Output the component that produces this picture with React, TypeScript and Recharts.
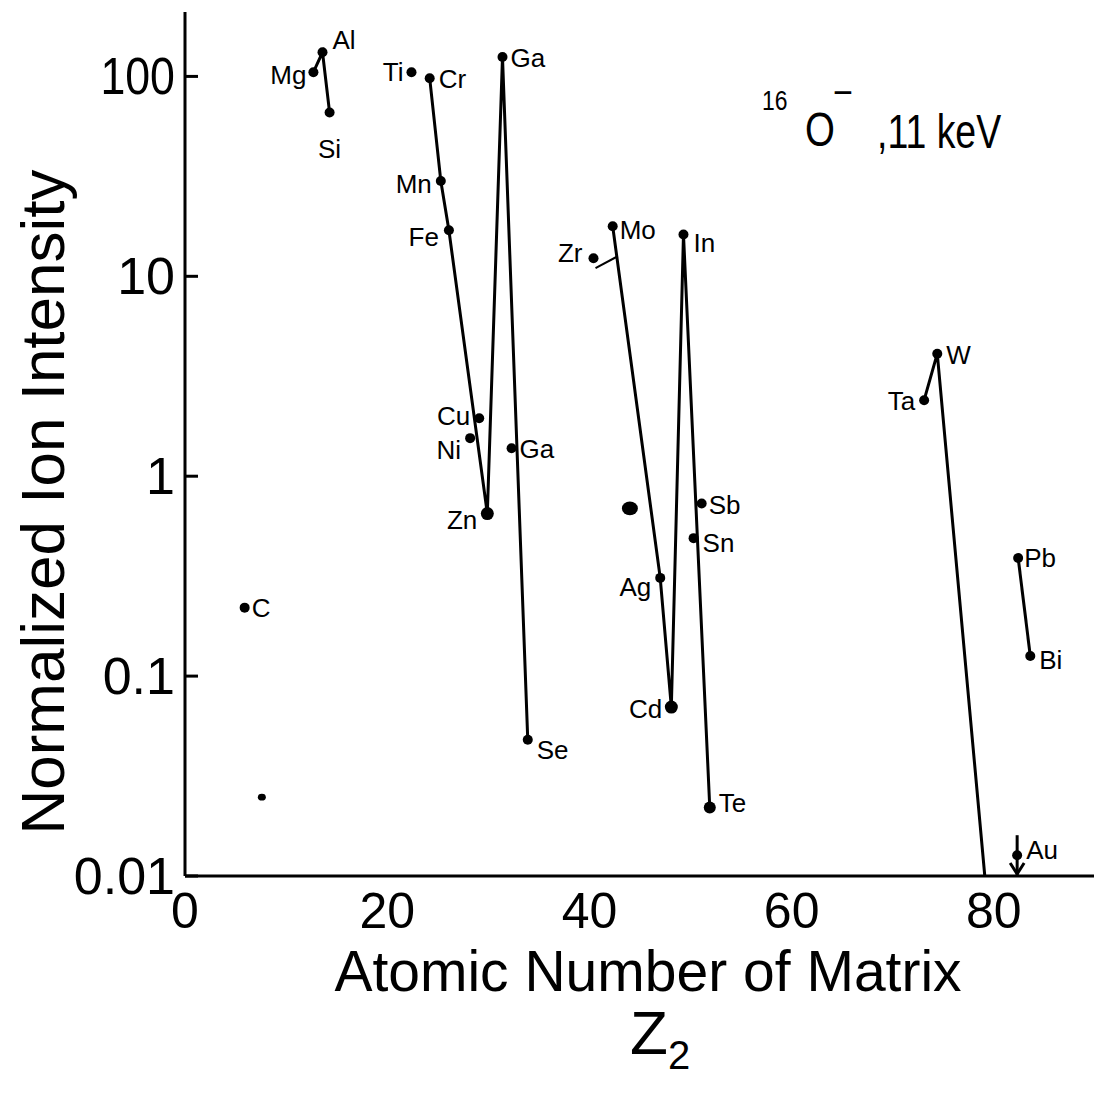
import React from 'react';
import { ScatterChart, Scatter, XAxis, YAxis } from 'recharts';

// Mg – Al – Si
const lightSym = ['Mg', 'Al', 'Si'];
const lightZ = [12.7, 13.6, 14.3];
const lightVal = [105, 132, 66];

// Cr … Zn – Ga – Se
const ironSym = ['Cr', 'Mn', 'Fe', 'Zn', 'Ga', 'Se'];
const ironZ = [24.2, 25.3, 26.1, 29.9, 31.4, 33.9];
const ironVal = [98, 30, 17, 0.65, 125, 0.048];

// Mo – Ag – Cd – In – Te
const fifthSym = ['Mo', 'Ag', 'Cd', 'In', 'Te'];
const fifthZ = [42.3, 47.0, 48.1, 49.3, 51.9];
const fifthVal = [17.8, 0.31, 0.07, 16.2, 0.022];

// Ta – W, falling below the axis towards Z = 79
const heavySym = ['Ta', 'W', ''];
const heavyZ = [73.1, 74.4, 79.1];
const heavyVal = [2.4, 4.1, 0.01];

// Pb – Bi
const leadSym = ['Pb', 'Bi'];
const leadZ = [82.4, 83.6];
const leadVal = [0.39, 0.126];

// points not joined by a line
const singleSym = ['C', 'Ti', 'Ni', 'Cu', 'Ga', 'Zr', 'Sn', 'Sb'];
const singleZ = [5.9, 22.4, 28.2, 29.1, 32.3, 40.4, 50.3, 51.1];
const singleVal = [0.22, 105, 1.55, 1.95, 1.38, 12.3, 0.49, 0.73];

// Au: upper limit, arrow pointing down
const auZ = 82.3;
const auVal = 0.0127;
const auArrowVal = [0.016, 0.01];

// short leader next to Zr
const zrLeaderZ = [40.6, 42.8];
const zrLeaderVal = [11.0, 12.6];

// stray marks
const speckZ = [44.0, 7.6];
const speckVal = [0.69, 0.0248];

const xTicks = [0, 20, 40, 60, 80];
const yTicks = [0.01, 0.1, 1, 10, 100];

const SANS = '"Liberation Sans", Arial, sans-serif';
const INK = '#000';

type Anchor = 'start' | 'middle' | 'end';
// label offset from the dot: dx, dy (baseline), anchor
const labelPos: Record<string, [number, number, Anchor]> = {
  Mg: [-7, 12, 'end'],
  Al: [10, -3, 'start'],
  Si: [0, 46, 'middle'],
  Ti: [-8, 9, 'end'],
  Cr: [9, 10, 'start'],
  Mn: [-9, 12, 'end'],
  Fe: [-10, 16, 'end'],
  Cu: [-9, 7, 'end'],
  Ni: [-9, 21, 'end'],
  Zn: [-10, 15, 'end'],
  Ga: [8, 10, 'start'],
  Se: [9, 19, 'start'],
  C: [7, 9, 'start'],
  Zr: [-11, 4, 'end'],
  Mo: [7, 13, 'start'],
  In: [10, 18, 'start'],
  Sb: [7, 10, 'start'],
  Sn: [9, 14, 'start'],
  Ag: [-9, 18, 'end'],
  Cd: [-9, 11, 'end'],
  Te: [9, 4, 'start'],
  W: [9, 10, 'start'],
  Ta: [-9, 10, 'end'],
  Pb: [6, 9, 'start'],
  Bi: [9, 13, 'start'],
  Au: [9, 4, 'start'],
};
const dotR: Record<string, number> = { Zn: 6.5, Cd: 6.5, Te: 6 };

const toPoints = (sym: string[], z: number[], v: number[]) =>
  z.map((zz, i) => ({ sym: sym[i], z: zz, v: v[i] }));

const ElementDot = (props: any) => {
  const { cx, cy, payload } = props;
  if (cx == null || cy == null || !payload.sym) return <g />;
  const [dx, dy, anchor] = labelPos[payload.sym] || [8, 9, 'start'];
  return (
    <g>
      <circle cx={cx} cy={cy} r={dotR[payload.sym] || 5} fill={INK} />
      <text x={cx + dx} y={cy + dy} textAnchor={anchor} fontFamily={SANS} fontSize={26} fill={INK}>
        {payload.sym}
      </text>
    </g>
  );
};

const NoDot = () => <g />;

const ArrowTip = (props: any) => {
  const { cx, cy, payload } = props;
  if (cx == null || !payload.tip) return <g />;
  return (
    <path d={`M${cx - 7},${cy - 13} L${cx},${cy - 2} L${cx + 7},${cy - 13}`} stroke={INK} strokeWidth={3} fill="none" />
  );
};

const speckR = [8, 4];
const Speck = (props: any) => {
  const { cx, cy, index } = props;
  if (cx == null) return <g />;
  const r = speckR[index] ?? 4;
  return <ellipse cx={cx} cy={cy} rx={r} ry={r * 0.85} fill={INK} />;
};

// condensed lettering: squeeze the glyphs horizontally around the anchor point
const Narrow = ({ x, y, size, anchor = 'start', squeeze = 0.8, children }: any) => (
  <text
    transform={`translate(${x} ${y}) scale(${squeeze} 1)`}
    textAnchor={anchor}
    fontFamily={SANS}
    fontSize={size}
    fill={INK}
  >
    {children}
  </text>
);

const YTick = (props: any) => {
  const { x, y, payload } = props;
  return (
    <g>
      <line x1={x} y1={y} x2={x + 13} y2={y} stroke={INK} strokeWidth={3} />
      <Narrow x={x - 10} y={y + 18} size={52} anchor="end" squeeze={payload.value === 100 ? 0.86 : 1}>
        {String(payload.value)}
      </Narrow>
    </g>
  );
};

const XTick = (props: any) => {
  const { x, y, payload } = props;
  return (
    <text x={x} y={y + 52} textAnchor="middle" fontFamily={SANS} fontSize={50} fill={INK}>
      {payload.value}
    </text>
  );
};

const lineStyle = { stroke: INK, strokeWidth: 3 };

export default function App() {
  const auArrow = auArrowVal.map((v, i) => ({ z: auZ, v, tip: i === auArrowVal.length - 1 }));
  const specks = speckZ.map((z, i) => ({ z, v: speckVal[i] }));
  const zrLeader = zrLeaderZ.map((z, i) => ({ z, v: zrLeaderVal[i] }));

  return (
    <div style={{ width: 1094, height: 1099, background: '#fff' }}>
      <ScatterChart width={1094} height={1099} margin={{ top: 4, right: 7, left: 0, bottom: 0 }}>
        <XAxis
          dataKey="z"
          type="number"
          domain={[0, 90]}
          ticks={xTicks}
          allowDataOverflow
          height={231}
          tickSize={0}
          tickMargin={0}
          tickLine={false}
          axisLine={{ stroke: INK, strokeWidth: 3 }}
          tick={<XTick />}
        />
        <YAxis
          dataKey="v"
          type="number"
          scale="log"
          domain={[0.01, 210]}
          ticks={yTicks}
          allowDataOverflow
          width={177}
          tickSize={0}
          tickMargin={0}
          tickLine={false}
          axisLine={{ stroke: INK, strokeWidth: 3 }}
          tick={<YTick />}
        />
        <Scatter data={toPoints(lightSym, lightZ, lightVal)} line={lineStyle} shape={ElementDot} isAnimationActive={false} />
        <Scatter data={toPoints(ironSym, ironZ, ironVal)} line={lineStyle} shape={ElementDot} isAnimationActive={false} />
        <Scatter data={toPoints(fifthSym, fifthZ, fifthVal)} line={lineStyle} shape={ElementDot} isAnimationActive={false} />
        <Scatter data={toPoints(heavySym, heavyZ, heavyVal)} line={lineStyle} shape={ElementDot} isAnimationActive={false} />
        <Scatter data={toPoints(leadSym, leadZ, leadVal)} line={lineStyle} shape={ElementDot} isAnimationActive={false} />
        <Scatter data={toPoints(singleSym, singleZ, singleVal)} shape={ElementDot} isAnimationActive={false} />
        <Scatter data={auArrow} line={lineStyle} shape={ArrowTip} isAnimationActive={false} />
        <Scatter data={[{ sym: 'Au', z: auZ, v: auVal }]} shape={ElementDot} isAnimationActive={false} />
        <Scatter data={zrLeader} line={{ stroke: INK, strokeWidth: 2 }} shape={NoDot} isAnimationActive={false} />
        <Scatter data={specks} shape={Speck} isAnimationActive={false} />

        <text
          x={56}
          y={494}
          transform="rotate(-90 56 494)"
          textAnchor="middle"
          fontFamily={SANS}
          fontSize={62}
          fill={INK}
        >
          Normalized Ion Intensity
        </text>
        <text x={640} y={983} textAnchor="middle" fontFamily={SANS} fontSize={57} fill={INK}>
          Atomic Number of Matrix
        </text>
        <text x={622} y={1046} fontFamily={SANS} fontSize={62} fill={INK}>
          Z
          <tspan fontSize={40} dy={15}>2</tspan>
        </text>
        <Narrow x={754} y={102} size={27} squeeze={0.85}>16</Narrow>
        <Narrow x={797} y={138} size={48} squeeze={0.8}>O</Narrow>
        <Narrow x={825} y={98} size={40} squeeze={0.85}>−</Narrow>
        <Narrow x={869} y={140} size={48} squeeze={0.78}>,11 keV</Narrow>
      </ScatterChart>
    </div>
  );
}
